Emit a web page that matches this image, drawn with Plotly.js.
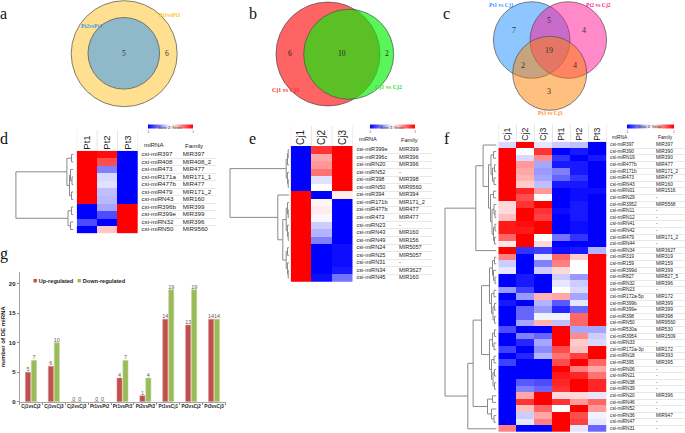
<!DOCTYPE html>
<html><head><meta charset="utf-8">
<script src="https://cdn.plot.ly/plotly-3.0.1.min.js"></script>
<style>html,body{margin:0;padding:0;background:#fff}#chart{width:685px;height:433px}</style>
</head><body><div id="chart"></div>
<script>
// ================= DATA =================
// Venn a
const vennA_sets = ['Pt1vsPt3', 'Pt2vsPt3'];
const vennA_counts = [6, 5];               // Pt1vsPt3 only, shared
// Venn b
const vennB_sets = ['Cj1 vs Cj3', 'Cj1 vs Cj2'];
const vennB_counts = [6, 10, 2];           // Cj1vsCj3 only, shared, Cj1vsCj2 only
// Venn c
const vennC_sets = ['Pt1 vs Cj1', 'Pt2 vs Cj2', 'Pt3 vs Cj3'];
const vennC_counts = [7, 5, 4, 19, 2, 4, 3]; // A, AB, B, ABC, AC, BC, C

// Heatmap d
const d_cols = ['Pt1', 'Pt2', 'Pt3'];
const d_mirna = ['csi-miR397','csi-miR408','csi-miR473','csi-miR171a','csi-miR477b','csi-miR479','csi-miRN43','csi-miR396b','csi-miR399e','csi-miRN32','csi-miRN50'];
const d_family = ['MIR397','MIR408_2','MIR477','MIR171_1','MIR477','MIR171_2','MIR160','MIR399','MIR399','MIR396','MIR9560'];
const d_z = [
  [1, 0.95, -1], [1, 0.7, -1], [1, -0.5, -1], [1, -0.15, -1], [1, -0.12, -1], [1, -0.25, -1],
  [1, -0.28, -1], [-1, -0.35, 1], [-1, -0.7, 1], [-0.7, -1, 1], [-1, 0.22, 1]
];
const d_tree = [57.6, [6.6, [2, 0, 1], [4, [3, 2, [1.5, 3, 4]], [2, 5, 6]]], [5.5, [2, 7, 8], [3, 9, 10]]];

// Heatmap e
const e_cols = ['Cj1', 'Cj2', 'Cj3'];
const e_mirna = ['csi-miR399e','csi-miR396c','csi-miRN20','csi-miRN52','csi-miR398','csi-miRN50','csi-miR394','csi-miR171b','csi-miR477b','csi-miR473','csi-miRN23','csi-miRN43','csi-miRN49','csi-miRN24','csi-miRN25','csi-miRN31','csi-miRN34','csi-miRN45'];
const e_family = ['MIR399','MIR396','MIR396','-','MIR398','MIR9560','MIR394','MIR171_2','MIR477','MIR477','-','MIR160','MIR156','MIR5057','MIR5057','-','MIR3627','MIR160'];
const e_z = [
  [-1, 0.8, 1], [-1, 0.35, 1], [-1, 0.4, 1], [-1, 0.55, 1], [-1, -0.12, 1], [-1, 0, 1],
  [1, -1, 0.08], [1, 0.03, -1], [1, 0.07, -1], [1, -0.03, -1], [1, -0.2, -1], [1, -0.3, -1],
  [1, -0.5, -1], [1, -1, -0.95], [1, -1, -0.95], [1, -1, -0.95], [1, -1, -0.9], [1, -0.95, -0.55]
];
const e_tree = [59, [2.8, [1.5, [0.8, 0, 1], 2], [1.5, 3, [0.8, 4, 5]]],
  [11.2, 6, [6.2, [2.8, [1.5, 7, [0.8, 8, 9]], [1.5, 10, [0.8, 11, 12]]],
                  [2.8, [1.5, 13, 14], [1.5, 15, [0.8, 16, 17]]]]]];

// Heatmap f
const f_cols = ['Cj1', 'Cj2', 'Cj3', 'Pt1', 'Pt2', 'Pt3'];
const f_mirna = ['csi-miR397','csi-miR390','csi-miRN19','csi-miR477b','csi-miR171b','csi-miR473','csi-miRN43','csi-miRN01','csi-miRN29','csi-miR3952','csi-miRN11','csi-miRN12','csi-miRN41','csi-miRN42','csi-miR479','csi-miRN44','csi-miRN34','csi-miR319','csi-miR159','csi-miR399d','csi-miR827','csi-miRN32','csi-miRN23','csi-miR172a-5p','csi-miR399b','csi-miR399e','csi-miR398','csi-miRN50','csi-miR530a','csi-miR3954','csi-miRN33','csi-miR172a-3p','csi-miRN18','csi-miR395','csi-miRN06','csi-miRN21','csi-miRN38','csi-miRN39','csi-miRN20','csi-miRN46','csi-miRN52','csi-miRN36','csi-miRN47','csi-miRN31'];
const f_family = ['MIR397','MIR390','MIR390','MIR477','MIR171_2','MIR477','MIR160','MIR1516','-','MIR5568','-','-','-','-','MIR171_2','-','MIR3627','MIR319','MIR159','MIR399','MIR827_5','MIR396','-','MIR172','MIR399','MIR399','MIR398','MIR9560','MIR530','MIR1509','-','MIR172','MIR393','MIR395','-','-','-','-','MIR396','-','-','MIR947','-','-'];
const f_z = [
  [-0.15, 1, -0.1, -0.2, -0.25, -1],
  [1, 0, 0.8, -1, -0.9, -1],
  [1, -0.15, 0.45, -0.8, -1, -0.9],
  [1, 0.4, -0.35, -0.9, -0.9, -1],
  [1, 0.35, -0.4, -0.5, -0.9, -1],
  [1, 0.3, -0.35, -0.6, -0.8, -1],
  [1, 0.2, -0.25, -0.9, -0.9, -1],
  [1, 0.85, 0.4, -1, -0.95, -0.95],
  [1, 0.7, 0, -1, -0.95, -1],
  [0.15, 0.8, 1, -1, -0.9, -1],
  [0.15, 1, 0.8, -0.95, -0.9, -1],
  [0.25, 1, 0.75, -1, -0.9, -1],
  [0.9, 0.95, 1, -1, -0.95, -1],
  [0.9, 0.9, 1, -1, -0.95, -1],
  [0.6, 1, 0, -0.55, -0.8, -1],
  [0.1, 1, 0.15, -1, -1, -1],
  [1, -0.8, -0.75, -0.95, -0.9, -0.3],
  [0.5, -1, -0.1, 0.6, 0.2, 1],
  [-0.2, -1, -0.5, 0.5, 0, 1],
  [-0.1, -1, -0.2, 0.15, 0, 1],
  [-1, -0.9, -1, -0.2, -0.4, 1],
  [-1, -0.9, -1, -0.1, -0.2, 1],
  [-0.4, -0.75, -1, 0, -0.15, 1],
  [-1, -0.4, 0.3, 0.35, -0.35, 1],
  [-0.9, -1, -0.3, -0.65, -0.1, 1],
  [-1, -0.6, -0.4, -0.85, -0.6, 1],
  [-1, -0.6, -0.05, -0.05, 0.6, 1],
  [-1, -0.35, 0.3, -0.25, 0.6, 1],
  [-0.7, -1, -1, 1, -0.35, -0.35],
  [-1, -0.5, -0.6, 1, 0.45, -0.2],
  [-1, -0.85, -0.35, 1, 0.2, -0.15],
  [-0.75, -1, -0.45, 0.7, 0.25, 1],
  [-1, -0.85, -0.3, 0.55, 0.75, 1],
  [-0.75, -1, -1, 0.7, 1, 0.6],
  [-1, -1, -1, 1, 0.5, 0.35],
  [-1, -1, -1, 0.9, 0.85, 0.55],
  [-1, -0.65, -0.7, 0.85, 1, 0.85],
  [-1, -0.5, -0.6, 0.8, 1, 0.85],
  [-1, 0.35, 1, 0.15, 0.15, -0.1],
  [-1, 0.8, 1, 0.8, 0.4, 0.6],
  [-1, 0.25, 0.6, 0, 1, 0.4],
  [-1, -0.2, 0.35, 1, 0.7, -0.05],
  [-1, -0.1, 0.5, 1, 0.75, -0.1],
  [0.5, -1, -1, 1, -0.1, -0.6]
];
const f_A1a = [5.5, [3, 1, 2], [4, [2, 3, 4], [2.5, 5, 6]]];
const f_A1b = [6, [3, 7, 8], [4.5, [2.5, 9, [1.5, 10, 11]], [3, [1.5, 12, 13], [2, 14, 15]]]];
const f_B1 = [7, [4, [2, 17, 18], [3, 19, [1.5, 20, 21]]], [5, [2.5, 22, 23], [3.5, [2, 24, 25], [2, 26, 27]]]];
const f_B2 = [7, [4, [2, 28, 29], [2.5, 30, 31]], [5, [2.5, 32, 33], [3.5, [2, 34, 35], [2, 36, 37]]]];
const f_B3 = [9, [4, 38, 39], [5, 40, [2.5, 41, 42]]];
const f_tree = [51.5, [20.7, [13.4, 0, [8, f_A1a, f_A1b]], 16], [28.7, [23.4, [15, f_B1, f_B2], f_B3], 43]];

// Bar chart g
const g_categories = ['Cj1vsCj2','Cj1vsCj3','Cj2vsCj3','Pt1vsPt2','Pt1vsPt3','Pt2vsPt3','Pt1vsCj1','Pt2vsCj2','Pt3vsCj3'];
const g_series = ['Up-regulated', 'Down-regulated'];
const g_up = [5, 6, 0, 0, 4, 1, 14, 13, 14];
const g_down = [7, 10, 0, 0, 7, 4, 19, 19, 14];
const g_yticks = [0, 5, 10, 15, 20];

// ================= LAYOUT HELPERS =================
const W = 685, H = 433;
const px = v => v / W;
const py = v => 1 - v / H;
const domX = (a, b) => [a / W, b / W];
const domY = (top, bottom) => [1 - bottom / H, 1 - top / H];
const SANS = 'Liberation Sans, Arial, sans-serif';
const NARROW = 'Liberation Sans Narrow, Liberation Sans, Arial, sans-serif';
const SERIF = 'Liberation Serif, Times New Roman, serif';
const TXT = '#222';

const traces = [];
const layout = {
  width: W, height: H, margin: {l: 0, r: 0, t: 0, b: 0},
  paper_bgcolor: '#fff', plot_bgcolor: 'rgba(0,0,0,0)',
  showlegend: false, shapes: [], annotations: [],
  bargap: 0.48, bargroupgap: 0.15, barmode: 'group',
  font: {family: SANS, color: TXT}
};

function dendro(tree) {
  const xs = [], ys = [];
  function walk(n) {
    if (typeof n === 'number') return {y: n, h: 0};
    const L = walk(n[1]), R = walk(n[2]), h = n[0];
    xs.push(L.h, h, h, R.h, null);
    ys.push(L.y, L.y, R.y, R.y, null);
    return {y: (L.y + R.y) / 2, h: h};
  }
  walk(tree);
  return {xs, ys};
}
const an = n => n === 1 ? '' : String(n);

function heatPanel(o) {
  const n = o.rows.length, m = o.cols.length;
  const hx = 'x' + an(o.xi), dx = 'x' + an(o.xi + 1), lx = 'x' + an(o.xi + 2);
  const hy = 'y' + an(o.yi), dy = 'y' + an(o.yi + 1);
  const idx = o.rows.map((_, i) => i);
  const yr = [n - 0.5, -0.5];
  traces.push({
    type: 'heatmap', z: o.z, x: o.cols, y: idx, xaxis: hx, yaxis: hy,
    colorscale: [[0, '#0000FF'], [0.5, '#FFFFFF'], [1, '#FF0000']], zmin: -1, zmax: 1,
    hoverinfo: 'skip',
    colorbar: {
      orientation: 'h', x: px(o.cb[0]), xanchor: 'center', y: py(o.cb[1]), yanchor: 'middle',
      len: o.cb[2], lenmode: 'pixels', thickness: 3.5, thicknessmode: 'pixels',
      outlinewidth: 0, xpad: 0, ypad: 0, ticks: '',
      tickvals: [-1, 1], ticktext: ['-1', '1'], tickfont: {size: 3, color: '#444'},
      title: {text: 'Row Z-Score', side: 'top', font: {size: 4.5, family: SERIF, color: '#333'}}
    }
  });
  const dd = dendro(o.tree);
  traces.push({type: 'scatter', mode: 'lines', x: dd.xs, y: dd.ys, xaxis: dx, yaxis: dy,
    line: {color: '#8a8a8a', width: 1}, hoverinfo: 'skip', connectgaps: false});
  traces.push({type: 'scatter', mode: 'text', x: idx.map(() => 0.5), y: idx, text: o.rows,
    textposition: 'middle right', textfont: {size: o.fs, family: SANS, color: TXT},
    xaxis: lx, yaxis: hy, hoverinfo: 'skip', cliponaxis: false});
  traces.push({type: 'scatter', mode: 'text', x: idx.map(() => o.famX - o.lab[0]), y: idx, text: o.fam,
    textposition: 'middle right', textfont: {size: o.fs, family: SANS, color: TXT},
    xaxis: lx, yaxis: hy, hoverinfo: 'skip', cliponaxis: false});
  const hdom = domY(o.heat[2], o.heat[3]);
  layout['xaxis' + an(o.xi)] = {domain: domX(o.heat[0], o.heat[1]), anchor: hy, side: 'top',
    type: 'category', range: [-0.5, m - 0.5], tickangle: -90, ticks: '', showgrid: false,
    showline: false, zeroline: false, tickfont: {size: o.hfs, family: SANS, color: TXT}, fixedrange: true};
  layout['yaxis' + an(o.yi)] = {domain: hdom, anchor: hx, range: yr, showticklabels: false, ticks: '',
    tickvals: [-0.5].concat(idx.map(i => i + 0.5)), showgrid: true, gridcolor: '#d9d9d9', gridwidth: 0.6,
    zeroline: false, showline: false, fixedrange: true};
  layout['xaxis' + an(o.xi + 1)] = {domain: domX(o.dend[0], o.dend[1]), anchor: dy,
    range: [o.dend[1] - o.dend[0], 0], visible: false, fixedrange: true};
  layout['yaxis' + an(o.yi + 1)] = {domain: hdom, anchor: dx, range: yr, visible: false, fixedrange: true};
  layout['xaxis' + an(o.xi + 2)] = {domain: domX(o.lab[0], o.lab[1]), anchor: hy,
    range: [0, o.lab[1] - o.lab[0]], visible: false, fixedrange: true};
  // header labels
  layout.annotations.push({xref: 'paper', yref: 'paper', x: px(o.lab[0] + 0.5), y: py(o.hdrY),
    text: 'miRNA', showarrow: false, xanchor: 'left', yanchor: 'middle', font: {size: o.fs, family: SANS, color: TXT}});
  layout.annotations.push({xref: 'paper', yref: 'paper', x: px(o.famX), y: py(o.hdrY + 1),
    text: 'Family', showarrow: false, xanchor: 'left', yanchor: 'middle', font: {size: o.fs, family: SANS, color: TXT}});
  // light separators between column headers
  for (let i = 0; i <= m; i++) {
    layout.shapes.push({type: 'line', xref: hx, yref: 'paper', x0: i - 0.5, x1: i - 0.5,
      y0: py(o.heat[2]), y1: py(o.hdrTop), line: {color: '#d5d5d5', width: 0.6}});
  }
}

heatPanel({xi: 1, yi: 1, rows: d_mirna, fam: d_family, cols: d_cols, z: d_z, tree: d_tree,
  heat: [76.7, 138, 150.7, 233.3], dend: [10, 73.5], lab: [141, 216], famX: 182.7,
  fs: 6.2, hfs: 9.5, hdrY: 144, hdrTop: 130, cb: [170.5, 126, 45]});
heatPanel({xi: 4, yi: 3, rows: e_mirna, fam: e_family, cols: e_cols, z: e_z, tree: e_tree,
  heat: [290.7, 352.7, 146, 281.7], dend: [226, 289], lab: [356, 432], famX: 399,
  fs: 5.6, hfs: 10, hdrY: 139, hdrTop: 126, cb: [392.5, 126, 45]});
heatPanel({xi: 7, yi: 5, rows: f_mirna, fam: f_family, cols: f_cols, z: f_z, tree: f_tree,
  heat: [498.3, 606.7, 141.7, 432.1], dend: [440, 496.5], lab: [609.5, 685], famX: 656,
  fs: 4.8, hfs: 8.7, hdrY: 137, hdrTop: 124, cb: [650.3, 125.7, 47]});

// ================= BAR CHART g =================
const gColors = ['#C0504D', '#9BBB59'];
[g_up, g_down].forEach((vals, k) => {
  traces.push({type: 'bar', name: g_series[k], x: g_categories, y: vals, xaxis: 'x10', yaxis: 'y7',
    marker: {color: gColors[k], line: {color: k ? '#B9D18A' : '#D88C8A', width: 0.6}},
    text: vals.map(String), textposition: 'outside', constraintext: 'none', cliponaxis: false,
    textfont: {size: 5.4, color: '#595959', family: SANS}, hoverinfo: 'skip'});
});
layout.xaxis10 = {domain: domX(19.5, 225.5), anchor: 'y7', type: 'category', showline: true,
  linecolor: '#8c8c8c', linewidth: 0.8, ticks: 'outside', tickson: 'boundaries', ticklen: 2.5,
  tickcolor: '#8c8c8c', tickangle: 0, tickfont: {size: 4.6, family: NARROW, color: '#222', weight: 700},
  fixedrange: true};
layout.yaxis7 = {domain: domY(272, 401.7), anchor: 'x10', range: [0, 22], tickvals: g_yticks,
  showline: true, linecolor: '#8c8c8c', linewidth: 0.8, ticks: 'outside', ticklen: 2, tickcolor: '#8c8c8c',
  showgrid: false, zeroline: false, tickfont: {size: 6, family: SANS, color: '#222', weight: 700},
  title: {text: 'number of DE miRNA', standoff: 2, font: {size: 6, family: SANS, color: '#222', weight: 700}},
  fixedrange: true};
// legend (text with coloured squares)
[[33, 0], [77, 1]].forEach(([x, k]) => {
  layout.annotations.push({xref: 'paper', yref: 'paper', x: px(x - 2.5), y: py(280.7), xanchor: 'left', yanchor: 'middle',
    showarrow: false, text: '<span style="color:' + gColors[k] + ';font-size:7px">■</span> ' + g_series[k],
    font: {size: 5.6, family: SANS, color: '#222', weight: 700}});
});

// ================= VENN DIAGRAMS =================
function circle(cx, cy, r, fill) {
  layout.shapes.push({type: 'circle', xref: 'paper', yref: 'paper', x0: px(cx - r), x1: px(cx + r),
    y0: py(cy + r), y1: py(cy - r), fillcolor: fill, line: {color: '#4d4d4d', width: 0.7}, layer: 'above'});
}
function label(x, y, text, size, color, family, weight) {
  layout.annotations.push({xref: 'paper', yref: 'paper', x: px(x), y: py(y), text: String(text),
    showarrow: false, xanchor: 'center', yanchor: 'middle',
    font: {size: size, color: color, family: family || SERIF, weight: weight || 400}});
}
// a
circle(124.2, 53.7, 53, '#FFE090');
circle(123.8, 53.3, 35.8, '#8FB9C9');
label(124, 53.5, vennA_counts[1], 7.5, '#333');
label(167.3, 53.5, vennA_counts[0], 7.5, '#333');
label(91.7, 26, vennA_sets[1], 5.6, '#3B9BE0', SERIF, 700);
label(169.5, 15, vennA_sets[0], 5.6, '#FFC20E', SERIF, 700);
// b
circle(328, 54, 52, '#FF6464');
circle(348.7, 54.3, 45, 'rgba(5,240,5,0.66)');
label(290, 53.5, vennB_counts[0], 7.5, '#222');
label(342.3, 53.5, vennB_counts[1], 7.5, '#222');
label(386.7, 53.5, vennB_counts[2], 7.5, '#222');
label(285, 90, vennB_sets[0], 6, '#FF3030', SERIF, 700);
label(388.3, 87.3, vennB_sets[1], 6, '#33DD33', SERIF, 700);
// c
circle(531.7, 40, 38.3, 'rgba(30,144,255,0.5)');
circle(568.3, 40, 38.3, 'rgba(255,20,147,0.5)');
circle(549.7, 73.3, 37, 'rgba(255,127,0,0.5)');
const cPos = [[514.3, 30], [549.3, 20.7], [584.3, 30], [549.3, 50.7], [523.3, 65.7], [575.3, 65.7], [549.3, 91.7]];
vennC_counts.forEach((v, i) => label(cPos[i][0], cPos[i][1], v, 8, '#333'));
label(501, 5, vennC_sets[0], 5.6, '#3399FF', SERIF, 700);
label(598.3, 5, vennC_sets[1], 5.6, '#FF1493', SERIF, 700);
label(550, 112.5, vennC_sets[2], 5.6, '#FF8C1A', SERIF, 700);

// ================= PANEL LETTERS =================
[['a', 4, 13.5], ['b', 252.7, 13.2], ['c', 446.7, 13.2], ['d', 4.3, 138.5], ['e', 252.3, 138.5],
 ['f', 446.7, 138.5], ['g', 4, 254]].forEach(([t, x, y]) => label(x, y, t, 16, '#111', SERIF, 400));

Plotly.newPlot('chart', traces, layout, {staticPlot: true, displayModeBar: false});
</script>
</body></html>
